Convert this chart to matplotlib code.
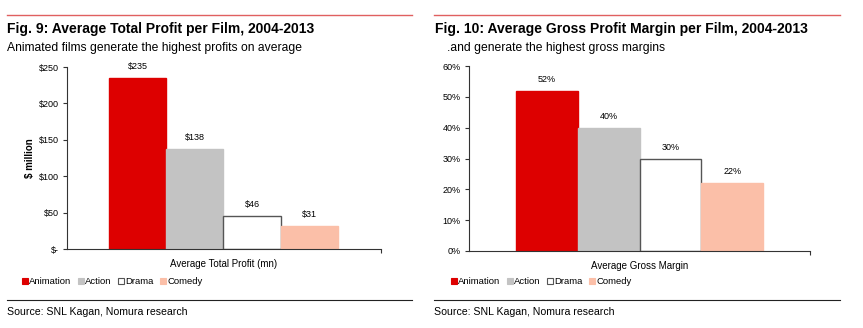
import numpy as np
import matplotlib.pyplot as plt
from matplotlib.patches import Patch

plt.rcParams['font.family'] = ['Liberation Sans', 'DejaVu Sans']

genres = ['Animation', 'Action', 'Drama', 'Comedy']
profit = [235, 138, 46, 31]
margin = [52, 40, 30, 22]
profit_labels = ['$235', '$138', '$46', '$31']
margin_labels = ['52%', '40%', '30%', '22%']
profit_ticks = ['$-', '$50', '$100', '$150', '$200', '$250']
margin_ticks = ['0%', '10%', '20%', '30%', '40%', '50%', '60%']

face = ['#dd0000', '#c3c3c3', 'white', '#fbbfa8']
edge = ['#dd0000', '#c3c3c3', '#555555', '#fbbfa8']

W, H = 863, 328
fig = plt.figure(figsize=(W / 100, H / 100), dpi=100)


def fx(px):
    return px / W


def fy(py):
    return 1 - py / H


def panel(rect, vals, labels, ticks, ymax, step, xlim, xlab):
    ax = fig.add_axes(rect)
    x = np.arange(len(vals))
    ax.bar(x, vals, width=1.0, color=face, edgecolor=edge, linewidth=1.0)
    for xi, v, lab in zip(x, vals, labels):
        ax.annotate(lab, (xi, v), xytext=(0, 5), textcoords='offset points',
                    ha='center', va='bottom', fontsize=6.5)
    ax.set_xlim(*xlim)
    ax.set_ylim(0, ymax)
    ax.set_yticks(np.arange(0, ymax + step / 2, step))
    ax.set_yticklabels(ticks, fontsize=6.5)
    ax.set_xticks([xlim[1]])
    ax.set_xticklabels([])
    ax.tick_params(axis='both', length=3, width=0.8, color='#333333', pad=3)
    for s in ['top', 'right']:
        ax.spines[s].set_visible(False)
    for s in ['left', 'bottom']:
        ax.spines[s].set_color('#333333')
        ax.spines[s].set_linewidth(0.8)
    ax.set_xlabel(xlab, fontsize=7, labelpad=1)
    return ax


ax1 = panel([fx(67), fy(249), fx(381 - 67), (249 - 67) / H], profit, profit_labels,
            profit_ticks, 250, 50, (-1.23, 4.25), 'Average Total Profit (mn)')
ax1.set_ylabel('$ million', fontsize=7, fontweight='bold', labelpad=3)

ax2 = panel([fx(469), fy(251), fx(810 - 469), (251 - 66) / H], margin, margin_labels,
            margin_ticks, 60, 10, (-1.26, 4.26), 'Average Gross Margin')

# header / footer lines and text
for x0, x1 in [(7, 412), (434, 840)]:
    fig.add_artist(plt.Line2D([fx(x0), fx(x1)], [fy(15), fy(15)], color='#e06060', lw=1.0))
    fig.add_artist(plt.Line2D([fx(x0), fx(x1)], [fy(300), fy(300)], color='#222222', lw=0.8))
    fig.text(fx(x0), fy(312), 'Source: SNL Kagan, Nomura research', fontsize=7.6,
             va='center', ha='left')

fig.text(fx(7), fy(29), 'Fig. 9: Average Total Profit per Film, 2004-2013',
         fontsize=10, fontweight='bold', va='center', ha='left')
fig.text(fx(7), fy(48), 'Animated films generate the highest profits on average',
         fontsize=8.7, va='center', ha='left')
fig.text(fx(435), fy(29), 'Fig. 10: Average Gross Profit Margin per Film, 2004-2013',
         fontsize=10, fontweight='bold', va='center', ha='left')
fig.text(fx(447), fy(48), '.and generate the highest gross margins',
         fontsize=8.7, va='center', ha='left')

handles = [Patch(facecolor=f, edgecolor=e, linewidth=0.8) for f, e in zip(face, edge)]
for x0 in [22, 451]:
    fig.legend(handles, genres, loc='center left', bbox_to_anchor=(fx(x0), fy(282)),
               ncol=4, frameon=False, fontsize=6.8, handlelength=0.6, handleheight=0.6,
               handletextpad=0.15, columnspacing=0.7, borderaxespad=0, borderpad=0)

fig.savefig('out.png', dpi=100)
